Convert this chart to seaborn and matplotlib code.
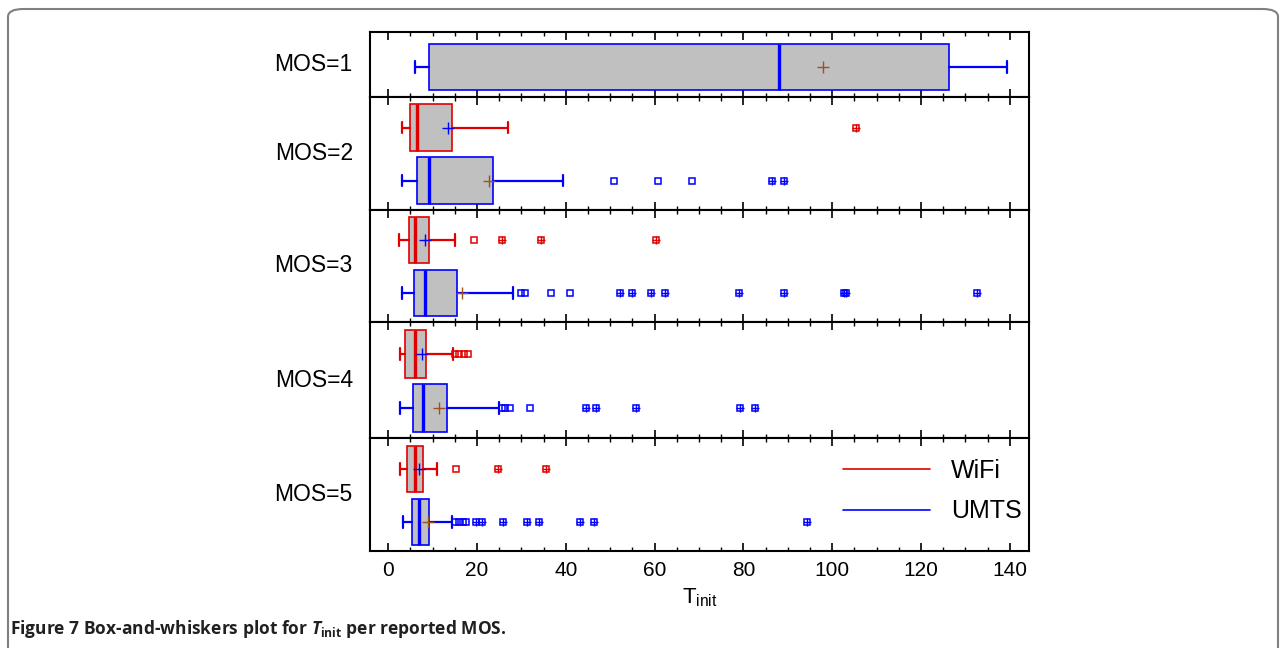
import matplotlib.pyplot as plt
import numpy as np
import pandas as pd
import seaborn as sns
from matplotlib.lines import Line2D
from matplotlib.patches import FancyBboxPatch
from matplotlib.ticker import MultipleLocator

mos_labels = ["MOS=1", "MOS=2", "MOS=3", "MOS=4", "MOS=5"]

# summaries (None = no WiFi ratings for MOS=1)
wifi_low = [None, 3.0, 2.5, 2.6, 2.7]
wifi_q1 = [None, 4.9, 4.6, 3.8, 4.2]
wifi_med = [None, 6.5, 6.1, 6.1, 6.1]
wifi_q3 = [None, 14.4, 9.2, 8.4, 7.9]
wifi_high = [None, 26.9, 15.0, 14.5, 11.1]
wifi_mean = [None, 13.5, 8.3, 7.5, 7.0]
wifi_out = [[], [], [19.3], [15.1, 16.0, 17.0, 18.0], [15.3]]
wifi_far = [[], [105.3], [25.6, 34.3, 60.4], [], [24.8, 35.5]]

umts_low = [6.1, 3.1, 3.1, 2.6, 3.3]
umts_q1 = [9.2, 6.5, 5.8, 5.6, 5.4]
umts_med = [88.0, 9.2, 8.3, 7.8, 7.0]
umts_q3 = [126.2, 23.6, 15.4, 13.3, 9.2]
umts_high = [139.4, 39.4, 28.2, 24.9, 14.3]
umts_mean = [97.9, 22.6, 16.7, 11.4, 9.0]
umts_out = [[], [50.8, 60.8, 68.5], [29.9, 30.8, 36.6, 41.0],
            [25.7, 26.4, 27.4, 31.9], [15.1, 16.0, 16.9, 17.5]]
umts_far = [[], [86.5, 89.2],
            [52.2, 54.9, 59.2, 62.3, 79.0, 89.2, 102.6, 103.1, 132.7],
            [44.6, 46.8, 55.8, 79.2, 82.7],
            [19.8, 21.2, 25.8, 31.2, 33.9, 43.2, 46.4, 94.2]]

RED = "#e00000"
BLUE = "#0000ff"
BROWN = "#a0501e"
GREY = "#c0c0c0"

sns.set_theme(style="ticks")
plt.rcParams["font.family"] = ["Liberation Sans", "DejaVu Sans"]
plt.rcParams["text.color"] = "black"
plt.rcParams["axes.labelcolor"] = "black"
plt.rcParams["xtick.color"] = "black"
plt.rcParams["xtick.labelcolor"] = "black"
plt.rcParams["mathtext.fontset"] = "custom"
plt.rcParams["mathtext.rm"] = "Liberation Sans"
plt.rcParams["mathtext.it"] = "Open Sans:italic:bold"
plt.rcParams["mathtext.bf"] = "Open Sans:bold"


def draw_box(ax, pos, low, q1, med, q3, high, mean, out, far, color, mean_color):
    stats = [dict(whislo=low, q1=q1, med=med, q3=q3, whishi=high, mean=mean,
                  fliers=out + far)]
    ax.bxp(stats, positions=[pos], widths=0.88, orientation="horizontal",
           patch_artist=True, showmeans=True, capwidths=0.22,
           boxprops=dict(facecolor=GREY, edgecolor=color, linewidth=1.2),
           medianprops=dict(color=color, linewidth=2.4),
           whiskerprops=dict(color=color, linewidth=1.6),
           capprops=dict(color=color, linewidth=1.6),
           meanprops=dict(marker="+", markeredgecolor=mean_color, markersize=8,
                          markeredgewidth=1.0),
           flierprops=dict(marker="s", markerfacecolor="none", markeredgecolor=color,
                           markersize=4.8, markeredgewidth=1.1))
    if far:
        df = pd.DataFrame({"x": far, "y": [pos] * len(far)})
        sns.scatterplot(data=df, x="x", y="y", marker="+", color=color, s=40,
                        linewidth=1.0, ax=ax, legend=False, zorder=4)


fig = plt.figure(figsize=(12.81, 6.48), dpi=100)
gs = fig.add_gridspec(5, 1, left=370 / 1281, right=1029 / 1281, top=1 - 32 / 648,
                      bottom=1 - 551 / 648, hspace=0,
                      height_ratios=[1.23, 2.13, 2.13, 2.2, 2.13])

for i in range(5):
    ax = fig.add_subplot(gs[i])
    if wifi_med[i] is not None:
        draw_box(ax, 1, wifi_low[i], wifi_q1[i], wifi_med[i], wifi_q3[i], wifi_high[i],
                 wifi_mean[i], wifi_out[i], wifi_far[i], RED, BLUE)
        draw_box(ax, 0, umts_low[i], umts_q1[i], umts_med[i], umts_q3[i], umts_high[i],
                 umts_mean[i], umts_out[i], umts_far[i], BLUE, BROWN)
        ax.set_ylim(-0.55, 1.58)
    else:
        draw_box(ax, 0, umts_low[i], umts_q1[i], umts_med[i], umts_q3[i], umts_high[i],
                 umts_mean[i], umts_out[i], umts_far[i], BLUE, BROWN)
        ax.set_ylim(-0.57, 0.66)
    ax.set_xlim(-4.1, 144.3)
    ax.set_yticks([])
    ax.set_ylabel("")
    ax.set_xlabel("")
    ax.xaxis.set_major_locator(MultipleLocator(20))
    ax.xaxis.set_minor_locator(MultipleLocator(5))
    ax.tick_params(axis="x", which="both", direction="in", top=True, bottom=True,
                   labelbottom=(i == 4), labelsize=15, color="black", labelcolor="black",
                   pad=7)
    ax.tick_params(axis="x", which="major", length=6, width=1.2)
    ax.tick_params(axis="x", which="minor", length=3, width=1.0)
    for sp in ax.spines.values():
        sp.set_visible(True)
        sp.set_color("black")
        sp.set_linewidth(1.5)
    ax.text(-0.026, 0.5, mos_labels[i], transform=ax.transAxes, ha="right", va="center",
            fontsize=16.5, color="black")
    if i == 4:
        ax.set_xlabel(r"T$_{\rm init}$", fontsize=16, labelpad=5, color="black")
        handles = [Line2D([], [], color=RED, lw=1.2), Line2D([], [], color=BLUE, lw=1.2)]
        leg = ax.legend(handles, ["WiFi", "UMTS"], loc="center left",
                        bbox_to_anchor=(0.717, 0.53), frameon=False, fontsize=18,
                        handlelength=3.5, handletextpad=0.85, labelspacing=0.65,
                        borderpad=0, borderaxespad=0)
        for t in leg.get_texts():
            t.set_color("black")

fig.patches.append(FancyBboxPatch((8 / 1281, -0.05), 1270 / 1281, 1.05 - 9 / 648,
                                  boxstyle="round,pad=0,rounding_size=0.012",
                                  transform=fig.transFigure, facecolor="none",
                                  edgecolor="#808080", linewidth=1.5))

fig.text(10 / 1281, 1 - 634 / 648,
         r"Figure 7 Box-and-whiskers plot for $\mathit{T}_{\mathbf{init}}$ per reported MOS.",
         fontsize=12.5, fontweight="bold", family=["Open Sans", "DejaVu Sans"],
         ha="left", va="baseline", color="#202020")

fig.savefig("out.png", dpi=100)
